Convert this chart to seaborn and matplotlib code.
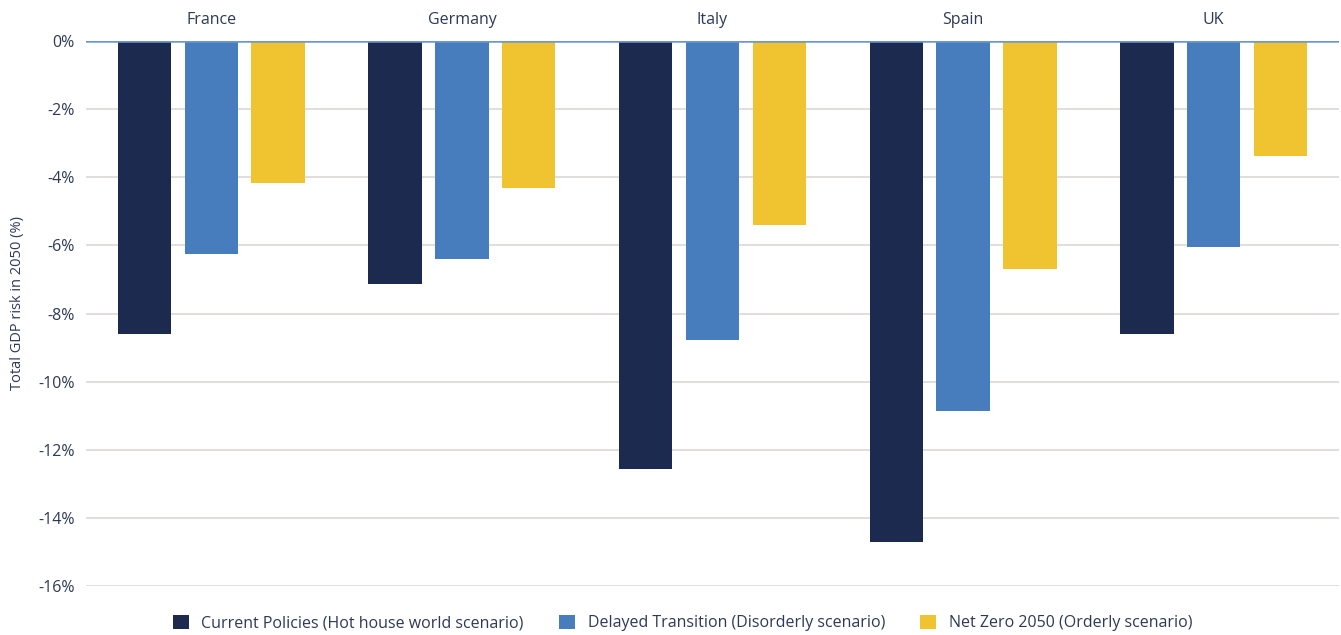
import matplotlib
matplotlib.use("Agg")
import matplotlib.pyplot as plt
import seaborn as sns
import pandas as pd
from matplotlib.patches import Patch

countries = ["France", "Germany", "Italy", "Spain", "UK"]
scenarios = ["Current Policies (Hot house world scenario)",
             "Delayed Transition (Disorderly scenario)",
             "Net Zero 2050 (Orderly scenario)"]
current_policies = [-8.60, -7.13, -12.57, -14.71, -8.60]
delayed_transition = [-6.25, -6.40, -8.78, -10.86, -6.05]
net_zero = [-4.17, -4.32, -5.40, -6.69, -3.38]
yticks = [0, -2, -4, -6, -8, -10, -12, -14, -16]

colors = ["#1b2a4e", "#477cbd", "#f0c330"]
text_color = "#2d3a55"

rows = []
for s, vals in zip(scenarios, [current_policies, delayed_transition, net_zero]):
    for c, v in zip(countries, vals):
        rows.append({"Country": c, "Scenario": s, "Value": v})
df = pd.DataFrame(rows)

sns.set_theme(style="white")
plt.rcParams["font.family"] = ["Open Sans", "DejaVu Sans"]

fig = plt.figure(figsize=(13.41, 6.35), dpi=100)
ax = fig.add_axes([86/1341, 1-586/635, (1339-86)/1341, (586-41)/635])

sns.barplot(data=df, x="Country", y="Value", hue="Scenario", order=countries,
            hue_order=scenarios, palette=colors, width=0.8, gap=0.2,
            saturation=1, ax=ax, legend=False, errorbar=None, linewidth=0)

ax.set_ylim(-16, 0)
ax.set_xlim(-0.5, 4.5)
ax.set_yticks(yticks)
ax.set_yticklabels([f"{t}%" for t in yticks], color=text_color, fontsize=11.5)
for t in yticks[1:]:
    ax.axhline(t, color="#dcd8d4", lw=1.2, zorder=0)
ax.axhline(0, color="#6d97cf", lw=1.8, zorder=3)

ax.xaxis.tick_top()
ax.tick_params(axis="x", length=0, pad=9, labelsize=11.5, colors=text_color)
ax.tick_params(axis="y", length=0, pad=8)
ax.set_xlabel("")
ax.set_ylabel("Total GDP risk in 2050 (%)", color=text_color, fontsize=10.5)
ax.yaxis.set_label_coords(-(86 - 25) / 1253, (586 - 303) / 545)
for sp in ax.spines.values():
    sp.set_visible(False)

handles = [Patch(facecolor=c, edgecolor="none") for c in colors]
fig.legend(handles, scenarios, loc="center", bbox_to_anchor=(0.509, 1 - 623/635),
           ncol=3, frameon=False, fontsize=11.5, handlelength=1.0, handleheight=1.0,
           columnspacing=2.2, handletextpad=0.8, labelcolor=text_color)

fig.savefig("out.png", dpi=100)
